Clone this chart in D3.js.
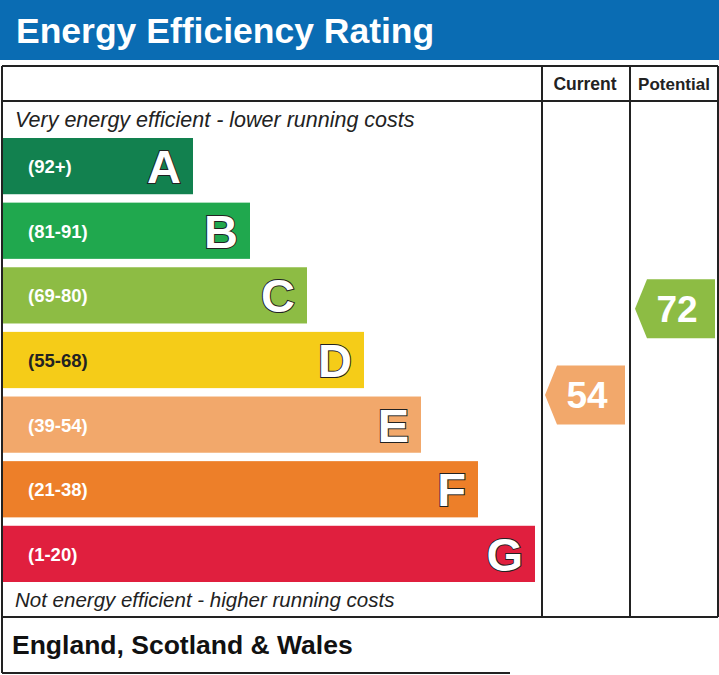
<!DOCTYPE html><html><head><meta charset="utf-8"><script src="https://cdn.jsdelivr.net/npm/d3@7"></script>
<style>body{margin:0;background:#fff}svg{display:block}</style></head><body><script>
const bands=["A","B","C","D","E","F","G"];
const ranges=["(92+)","(81-91)","(69-80)","(55-68)","(39-54)","(21-38)","(1-20)"];
const colors=["#12814f","#20a84e","#8dbc44","#f5cc18","#f2a86b","#ed7f29","#e01f3e"];
const bandMin=[92,81,69,55,39,21,1];
const currentValue=[54];
const potentialValue=[72];
const F="Liberation Sans, Arial, sans-serif";
const svg=d3.select("body").append("svg").attr("width",719).attr("height",675);
svg.append("rect").attr("x",0).attr("y",0).attr("width",719).attr("height",60).attr("fill","#0a6cb3");
svg.append("text").attr("x",16).attr("y",43).attr("fill","#fff").attr("font-family",F).attr("font-weight","bold").attr("font-size",35.5).text("Energy Efficiency Rating");
const y=d3.scaleBand().domain(bands).range([138,582]).paddingInner(0.13).paddingOuter(0);
const w=d3.scaleLinear().domain([0,6]).range([193,535]);
const line=(x1,y1,x2,y2)=>svg.append("line").attr("x1",x1).attr("y1",y1).attr("x2",x2).attr("y2",y2).attr("stroke","#222").attr("stroke-width",2);
line(2,66,718,66);line(2,66,2,673);line(718,66,718,617);line(2,617,718,617);
line(2,101,718,101);line(542,66,542,617);line(630,66,630,617);line(2,673,510,673);
svg.append("text").attr("x",585).attr("y",90).attr("text-anchor","middle").attr("font-family",F).attr("font-weight","bold").attr("font-size",17.5).attr("fill","#222").text("Current");
svg.append("text").attr("x",674).attr("y",90).attr("text-anchor","middle").attr("font-family",F).attr("font-weight","bold").attr("font-size",17).attr("fill","#222").text("Potential");
svg.append("text").attr("x",15).attr("y",127).attr("font-family",F).attr("font-style","italic").attr("font-size",21.5).attr("fill","#222").text("Very energy efficient - lower running costs");
svg.append("text").attr("x",15).attr("y",607).attr("font-family",F).attr("font-style","italic").attr("font-size",20.5).attr("fill","#222").text("Not energy efficient - higher running costs");
const g=svg.selectAll("g.b").data(bands).enter().append("g");
g.append("rect").attr("x",3).attr("y",d=>y(d)).attr("height",y.bandwidth()).attr("width",(d,i)=>w(i)-3).attr("fill",(d,i)=>colors[i]);
g.append("text").attr("x",28).attr("y",d=>y(d)+y.bandwidth()/2+7).attr("font-family",F).attr("font-weight","bold").attr("font-size",18.5).attr("fill",(d,i)=>i==3?"#222":"#fff").text((d,i)=>ranges[i]);
g.append("text").attr("x",(d,i)=>w(i)-12).attr("y",d=>y(d)+y.bandwidth()/2+17).attr("text-anchor","end").attr("font-family",F).attr("font-weight","900").attr("font-size",47).attr("fill","#fff").attr("stroke","#222").attr("stroke-width",2).attr("paint-order","stroke").text(d=>d);
const bandOf=v=>bandMin.findIndex(m=>v>=m);
function arrow(v,x0,x1,dy){const i=bandOf(v);const top=y(bands[i])+dy, h=59;
 svg.append("path").attr("d",`M${x0},${top+h/2}L${x0+12},${top}H${x1}V${top+h}H${x0+12}Z`).attr("fill",colors[i]);
 svg.append("text").attr("x",(x0+x1)/2+2).attr("y",top+h/2+13).attr("text-anchor","middle").attr("font-family",F).attr("font-weight","bold").attr("font-size",37).attr("fill","#fff").text(v);}
arrow(currentValue[0],545,625,-31);
arrow(potentialValue[0],635,715,12);
svg.append("text").attr("x",12).attr("y",654).attr("font-family",F).attr("font-weight","bold").attr("font-size",26.5).attr("fill","#111").text("England, Scotland & Wales");
</script></body></html>
